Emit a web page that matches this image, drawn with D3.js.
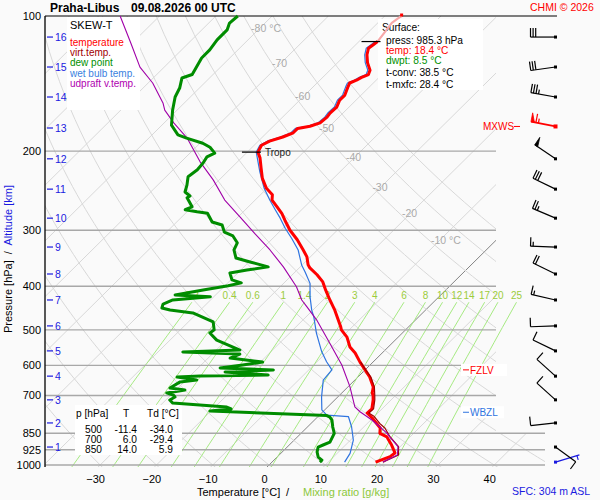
<!DOCTYPE html>
<html>
<head>
<meta charset="utf-8">
<script src="https://cdn.jsdelivr.net/npm/d3@7"></script>
<style>
  body { margin: 0; background: #fff; }
  svg { display: block; font-family: "Liberation Sans", Arial, sans-serif; }
</style>
</head>
<body>
<svg id="chart" width="600" height="500"></svg>
<script>
"use strict";

// ---- sounding data, [pressure hPa, temperature °C] ----
const tempProfile = [[985.3,18.4],[958,20.0],[940,20.2],[903,18.2],[866,15.9],[850,14.0],[827,13.1],[786,9.9],[766,8.1],[750,8.2],[716,6.8],[700,6.0],[691,5.4],[670,4.5],[637,2.1],[614,0.0],[590,-2.3],[563,-4.8],[546,-6.8],[519,-9.1],[500,-11.4],[493,-12.0],[452,-16.1],[429,-18.8],[408,-21.3],[391,-23.3],[377,-25.6],[364,-28.1],[358,-29.0],[344,-30.6],[332,-32.5],[315,-35.4],[300,-38.4],[285,-41.1],[275,-42.9],[266,-44.9],[257,-47.0],[250,-47.9],[242,-50.1],[230,-52.6],[218,-54.7],[207,-56.7],[201,-58.1],[194,-58.7],[190,-58.0],[186,-56.4],[182,-55.3],[178,-55.3],[176,-53.5],[173,-52.3],[168,-52.1],[164.5,-52.3],[159.5,-52.2],[154,-52.9],[150,-52.9],[144,-53.8],[141,-54.2],[139,-53.5],[137,-53.1],[135,-52.4],[132,-52.9],[127,-54.7],[122,-56.2],[118,-57.1],[116,-56.9],[114,-56.7]];
const tempTop = [[114,-56.7],[108.6,-57.1],[103.6,-57.5],[100.5,-57.1],[100,-57.0]];
const virtTemp = [[985.3,19.7],[950,21.2],[910,19.7],[865,16.4],[828,14.0],[808,12.2],[780,10.0],[766,8.4],[750,8.5],[716,7.1],[700,6.3],[670,4.7],[637,2.3],[614,0.1],[590,-2.2]];
const wetBulb = [[985.3,12.9],[942,12.3],[880,10.5],[822,7.8],[780,5.4],[774,1.3],[754,-0.5],[705,-2.9],[647,-5.6],[614,-5.9],[589,-8.3],[559,-11.0],[509,-15.2],[467,-18.7],[452,-20.2],[422,-22.9],[394,-25.3],[371,-28.3],[358.5,-30.1],[332,-33.4],[313,-36.6],[297,-39.6],[282,-42.3],[270,-44.7],[257,-47.4],[242,-50.5],[222,-54.3],[201,-58.4],[194,-59.0],[190,-58.4],[186,-56.8],[182,-55.7],[178,-55.7],[176,-53.9],[173,-52.7],[168,-52.5],[164.5,-52.7],[159.5,-52.6],[154,-53.3],[150,-53.3],[144,-54.2],[141,-54.6],[139,-53.9],[137,-53.5],[135,-52.8],[132,-53.3],[127,-55.1],[122,-56.6],[118,-57.5],[116,-57.3],[114,-57.1]];
const dewPoint = [[985.3,8.5],[975,8.5],[960,7.3],[935.5,6.2],[912,5.5],[902.5,6.0],[889,6.7],[850,5.9],[823,4.5],[794,3.1],[782,2.2],[776,1.4],[758,-20.2],[750,-16.8],[743,-17.9],[728,-28.2],[716.5,-29.3],[705.7,-28.9],[700,-29.4],[691,-31.1],[680.6,-28.4],[674,-31.4],[653,-30.7],[646.6,-28.1],[637,-32.1],[633.5,-28.2],[630.5,-16.3],[620.6,-24.5],[614,-16.3],[608,-26.1],[599,-22.6],[590,-19.6],[578,-26.1],[566,-25.1],[560,-35.6],[554.5,-25.8],[527,-31.7],[508,-34.2],[500,-34.0],[480,-35.6],[458.6,-40.8],[451.6,-45.4],[447,-47.2],[438,-47.7],[429,-46.7],[422,-40.6],[418,-47.2],[407.6,-43.1],[399,-39.4],[393,-37.6],[387,-39.8],[373.5,-41.4],[368,-38.9],[362,-35.7],[353,-39.8],[346,-43.0],[332,-44.8],[320,-45.5],[309,-47.5],[303,-49.7],[292,-51.4],[287.6,-53.7],[275,-56.1],[273,-58.2],[270,-60.7],[266,-60.0],[254,-62.5],[251.7,-62.3],[246.6,-63.9],[238,-64.8],[228,-66.1],[220,-65.7],[212.5,-65.9],[206,-66.3],[202,-65.6],[196,-67.5],[192,-69.5],[187,-73.3],[184,-75.4],[175,-78.3],[162,-80.8],[151.5,-82.7],[144.7,-83.5],[137.4,-84.9],[135,-83.7],[124,-85.0],[119,-85.0],[113,-85.5],[107.4,-85.5],[103.7,-86.3],[100,-86.1]];
const parcel = [[985.3,19.7],[950,21.0],[910,19.6],[866,16.4],[849,15.2],[822,12.8],[794,10.2],[761,6.6],[742,4.8],[669,0.3],[599,-5.0],[536,-11.0],[475,-17.6],[444,-21.7],[429,-23.8],[401,-27.1],[362,-33.0],[332,-38.4],[305,-44.1],[280,-49.7],[257,-55.4],[232,-61.0],[211,-66.7],[187,-73.2],[173,-78.3],[162,-82.2],[156.5,-83.7],[141,-89.2],[130,-94.3],[115,-100.2],[100,-107.0]];

// ---- axes / reference lines ----
const tempTicks = [-30, -20, -10, 0, 10, 20, 30, 40];
const pressTicks = [100, 200, 300, 400, 500, 600, 700, 850, 925, 1000];
const altKm = [1, 2, 3, 4, 5, 6, 7, 8, 9, 10, 11, 12, 13, 14, 15, 16];
const altP = [912, 806, 716, 634, 557, 490, 429, 375.5, 327, 282, 243, 208, 177.6, 151.5, 129.9, 111.4];
const isoLabelT = [-80, -70, -60, -50, -40, -30, -20, -10];
const isoLabelP = [106.3, 127.3, 150.6, 177.6, 206.1, 239.8, 274.7, 315.4];
const mixRatios = [0.2, 0.4, 0.6, 1, 1.4, 2, 3, 4, 6, 8, 10, 12, 14, 17, 20, 25];

// ---- winds ----
const windP   = [985.3, 912, 806, 716, 634, 557, 490, 429, 375.5, 327, 282, 243, 208, 176.2, 151.5, 129.9, 111.4];
const windDir = [73, 126, 264, 312, 312, 296, 268, 283, 296, 272, 293, 296, 304, 281, 280, 262, 270];
const windSpd = [3, 10, 10, 10, 10, 10, 10, 15, 20, 15, 25, 30, 50, 65, 35, 30, 30];
const windKind = ["sfc", "", "", "", "", "", "", "", "", "", "", "", "", "mxws", "", "", ""];

// ---- table / surface ----
const tableP = [500, 700, 850];
const tableT = [-11.4, 6.0, 14.0];
const tableTd = [-34.0, -29.4, 5.9];
const surfaceLines = [
    ["Surface:", "#000", 31, 382],
    ["press: 985.3 hPa", "#000", 44, 386],
    ["temp: 18.4 °C", "#ff0000", 54, 386],
    ["dwpt: 8.5 °C", "#009000", 64, 386],
    ["t-conv: 38.5 °C", "#000", 76, 386],
    ["t-mxfc: 28.4 °C", "#000", 88, 386]
];
const legendItems = [
    ["temperature", "#ff0000"],
    ["virt.temp.", "#a00000"],
    ["dew point", "#009000"],
    ["wet bulb temp.", "#3a7fe0"],
    ["udpraft v.temp.", "#b000b0"]
];
const levelMarks = [["FZLV", 614, "#ff0000"], ["WBZL", 763, "#2f74e0"]];
const mxwsP = 176.2;
const tropoMark = [201, -58.1];
const topMark = [114, -56.7];

const SKEW = 1.01, Y0 = 470, LEFT = 45, RIGHT = 496;
const svg = d3.select("#chart");
const y = d3.scaleLog().domain([100, 1000]).range([16, 465]);
const x = d3.scaleLinear().domain([-30, 40]).range([95.1, 489.2]);
const sx = (t, p) => x(t) + SKEW * (Y0 - y(p));
const line = d3.line().x(d => sx(d[1], d[0])).y(d => y(d[0]));

function dewFromMix(w, p) {
    const e = w * p / (622 + w);
    const l = Math.log(e / 6.112);
    return 243.5 * l / (17.67 - l);
}

svg.append("rect").attr("width", 600).attr("height", 500).attr("fill", "#fafafa");

const defs = svg.append("defs");
const gc = defs.append("clipPath").attr("id", "gridClip");
gc.append("rect").attr("x", LEFT).attr("y", 16).attr("width", RIGHT - LEFT).attr("height", 451);
gc.append("rect").attr("x", LEFT).attr("y", 433).attr("width", 500).attr("height", 34);
defs.append("clipPath").attr("id", "mixClip")
    .append("rect").attr("x", LEFT).attr("y", 16).attr("width", 500).attr("height", 451);

// isotherms + dry adiabats
const grid = svg.append("g").attr("clip-path", "url(#gridClip)");
grid.selectAll(".iso").data(d3.range(-160, 60, 10)).join("line")
    .attr("x1", t => sx(t, 1060)).attr("y1", y(1060))
    .attr("x2", t => sx(t, 100)).attr("y2", y(100))
    .attr("stroke", t => t === 0 ? "#666" : "#d8d8d8")
    .attr("stroke-width", t => t === 0 ? 0.8 : 1);
const pSamples = d3.range(100, 1071, 10);
grid.selectAll(".adiabat").data(d3.range(-100, 120, 10)).join("path")
    .attr("d", th => line(pSamples.map(p => [p, (th + 273.15) * Math.pow(p / 1000, 0.2857) - 273.15])))
    .attr("fill", "none").attr("stroke", "#d8d8d8").attr("stroke-width", 1);

// mixing ratio lines
const mixTop = 434;
const mixP = d3.range(mixTop, 1071, 20).concat([1070]);
svg.append("g").attr("clip-path", "url(#mixClip)")
    .selectAll("path").data(mixRatios).join("path")
    .attr("d", w => line(mixP.map(p => [p, dewFromMix(w, p)])))
    .attr("fill", "none").attr("stroke", "#a6ea82").attr("stroke-width", 1);
svg.append("g").selectAll("text").data(mixRatios).join("text")
    .attr("x", w => sx(dewFromMix(w, mixTop), mixTop)).attr("y", 299)
    .attr("text-anchor", "middle").attr("font-size", 10).attr("fill", "#9ccc3c")
    .text(w => w);

// pressure lines
svg.append("g").selectAll("line").data(pressTicks.slice(1)).join("line")
    .attr("x1", LEFT).attr("x2", p => p >= 850 ? 545 : RIGHT)
    .attr("y1", p => y(p)).attr("y2", p => y(p))
    .attr("stroke", "#a8a8a8").attr("stroke-width", 1.4);
svg.append("line").attr("x1", LEFT).attr("x2", 557).attr("y1", y(100)).attr("y2", y(100))
    .attr("stroke", "#000").attr("stroke-width", 1.2);
svg.append("line").attr("x1", LEFT).attr("x2", LEFT).attr("y1", y(100)).attr("y2", 467)
    .attr("stroke", "#000").attr("stroke-width", 1.3);

// isotherm labels
svg.append("g").selectAll("text").data(isoLabelT).join("text")
    .attr("x", (t, i) => sx(t, isoLabelP[i]) - 9).attr("y", (t, i) => y(isoLabelP[i]) + 4)
    .attr("font-size", 10.5).attr("fill", "#aaa")
    .text(t => (t === -80 || t === -10) ? `${t} °C` : `${t}`);

// axes
const xAxis = svg.append("g").attr("transform", `translate(0,${Y0})`)
    .call(d3.axisBottom(x).tickValues(tempTicks).tickSize(0).tickPadding(5));
xAxis.select(".domain").remove();
xAxis.selectAll("text").attr("font-size", 11).attr("font-family", "Liberation Sans, Arial, sans-serif");
const yAxis = svg.append("g").attr("transform", `translate(${LEFT},0)`)
    .call(d3.axisLeft(y).tickValues(pressTicks).tickFormat(d3.format("d")).tickSize(0).tickPadding(4));
yAxis.select(".domain").remove();
yAxis.selectAll("text").attr("font-size", 11).attr("font-family", "Liberation Sans, Arial, sans-serif");

// altitude ticks
const alt = svg.append("g").attr("fill", "#1a1ae0").attr("stroke", "#1a1ae0");
alt.selectAll("line").data(altP).join("line")
    .attr("x1", 47).attr("x2", 53).attr("y1", p => y(p)).attr("y2", p => y(p)).attr("stroke-width", 1.2);
alt.selectAll("text").data(altKm).join("text")
    .attr("x", 55).attr("y", (k, i) => y(altP[i]) + 4).attr("stroke", "none")
    .attr("font-size", 10.5).text(k => k);

// axis titles
const yt = svg.append("text").attr("transform", "translate(12,333) rotate(-90)")
    .attr("font-size", 11).style("white-space", "pre");
yt.append("tspan").attr("fill", "#000").text("Pressure [hPa]  /  ");
yt.append("tspan").attr("fill", "#1a1ae0").text("Altitude [km]");
svg.append("text").attr("x", 197).attr("y", 496).attr("font-size", 11).text("Temperature [°C]");
svg.append("text").attr("x", 286).attr("y", 496).attr("font-size", 11).text("/");
svg.append("text").attr("x", 303).attr("y", 496).attr("font-size", 11).attr("fill", "#8cc83a").text("Mixing ratio [g/kg]");

// title
svg.append("text").attr("x", 50).attr("y", 12).attr("font-size", 12).attr("font-weight", "bold").text("Praha-Libus");
svg.append("text").attr("x", 131).attr("y", 12).attr("font-size", 12).attr("font-weight", "bold").text("09.08.2026 00 UTC");
svg.append("text").attr("x", 530).attr("y", 10.5).attr("font-size", 10.5).attr("fill", "#ff0000").text("CHMI © 2026");
svg.append("text").attr("x", 512).attr("y", 495).attr("font-size", 10.5).attr("fill", "#1a1ae0").text("SFC: 304 m ASL");

// legend box
svg.append("rect").attr("x", 67).attr("y", 17).attr("width", 73).attr("height", 93).attr("fill", "#fff");
svg.append("text").attr("x", 70).attr("y", 29).attr("font-size", 11).text("SKEW-T");
svg.append("g").selectAll("text").data(legendItems).join("text")
    .attr("x", 70).attr("y", (d, i) => 46 + i * 10.2).attr("font-size", 10)
    .attr("fill", d => d[1]).text(d => d[0]);

// surface box
svg.append("rect").attr("x", 378).attr("y", 19).attr("width", 105).attr("height", 71).attr("fill", "#fff");
svg.append("g").selectAll("text").data(surfaceLines).join("text")
    .attr("x", d => d[3]).attr("y", d => d[2]).attr("font-size", 10.2)
    .attr("fill", d => d[1]).text(d => d[0]);

// table box
svg.append("rect").attr("x", 75).attr("y", 405).attr("width", 107).attr("height", 50).attr("fill", "#fff");
const tb = svg.append("g").attr("font-size", 10.2);
tb.append("text").attr("x", 76).attr("y", 417).text("p [hPa]");
tb.append("text").attr("x", 126).attr("y", 417).attr("text-anchor", "middle").text("T");
tb.append("text").attr("x", 147).attr("y", 417).text("Td [°C]");
tableP.forEach((p, i) => {
    const ry = 432.5 + i * 10.3;
    tb.append("text").attr("x", 102).attr("y", ry).attr("text-anchor", "end").text(p);
    tb.append("text").attr("x", 137).attr("y", ry).attr("text-anchor", "end").text(tableT[i].toFixed(1));
    tb.append("text").attr("x", 173).attr("y", ry).attr("text-anchor", "end").text(tableTd[i].toFixed(1));
});

// profiles
const prof = svg.append("g").attr("fill", "none").attr("stroke-linejoin", "round");
prof.append("path").attr("d", line(wetBulb)).attr("stroke", "#2f74e0").attr("stroke-width", 1.2);
prof.append("path").attr("d", line(tempTop)).attr("stroke", "#f7a8a8").attr("stroke-width", 2.2);
prof.append("path").attr("d", line(tempProfile)).attr("stroke", "#ff0000").attr("stroke-width", 3);
prof.append("path").attr("d", line(virtTemp)).attr("stroke", "#a00000").attr("stroke-width", 1.2);
prof.append("path").attr("d", line(parcel)).attr("stroke", "#a000a8").attr("stroke-width", 1.1);
prof.append("path").attr("d", line(dewPoint)).attr("stroke", "#008c00").attr("stroke-width", 3);
svg.append("rect").attr("x", sx(tempTop[4][1], 100) - 1.5).attr("y", y(100) - 2.5)
    .attr("width", 3).attr("height", 3).attr("fill", "#ff0000");

// tropopause / top markers
[tropoMark, topMark].forEach(m => {
    const mx = sx(m[1], m[0]);
    svg.append("line").attr("x1", mx - 16).attr("x2", mx + 3).attr("y1", y(m[0])).attr("y2", y(m[0]))
        .attr("stroke", "#000").attr("stroke-width", 1.2);
});
svg.append("text").attr("x", sx(tropoMark[1], tropoMark[0]) + 7).attr("y", y(tropoMark[0]) + 4)
    .attr("font-size", 10).attr("fill", "#222").text("Tropo");

// level marks
levelMarks.forEach(([name, p, col]) => {
    const ly = y(p);
    svg.append("rect").attr("x", 461).attr("y", ly - 6).attr("width", name === "WBZL" ? 43 : 46).attr("height", 12).attr("fill", "#fff");
    svg.append("line").attr("x1", 463).attr("x2", 469).attr("y1", ly).attr("y2", ly).attr("stroke", col);
    svg.append("text").attr("x", 470).attr("y", ly + 4).attr("font-size", 10).attr("fill", col).text(name);
});
svg.append("text").attr("x", 483).attr("y", y(mxwsP) + 4).attr("font-size", 10).attr("fill", "#ff0000").text("MXWS");
svg.append("line").attr("x1", 514).attr("x2", 520).attr("y1", y(mxwsP)).attr("y2", y(mxwsP)).attr("stroke", "#ff0000");

// wind barbs
function drawBarb(g, cx, cy, dir, spd, col, sw) {
    const r = dir * Math.PI / 180;
    const ux = Math.sin(r), uy = -Math.cos(r);
    const nx = -uy, ny = ux;
    const L = 25, B = 9, gap = 2.6;
    const ex = cx + L * ux, ey = cy + L * uy;
    g.append("line").attr("x1", cx).attr("y1", cy).attr("x2", ex).attr("y2", ey)
        .attr("stroke", col).attr("stroke-width", sw);
    let s = Math.round(spd / 5) * 5, pos = 0;
    while (s >= 50) {
        const ax = ex - pos * ux, ay = ey - pos * uy;
        const bx = ex - (pos + 3.5) * ux, by = ey - (pos + 3.5) * uy;
        g.append("path").attr("d", `M${ax},${ay}L${ax + B * nx},${ay + B * ny}L${bx},${by}Z`)
            .attr("fill", col).attr("stroke", col).attr("stroke-width", 0.8);
        pos += 5; s -= 50;
    }
    while (s >= 10) {
        const ax = ex - pos * ux, ay = ey - pos * uy;
        g.append("line").attr("x1", ax).attr("y1", ay).attr("x2", ax + B * nx).attr("y2", ay + B * ny)
            .attr("stroke", col).attr("stroke-width", 1.2);
        pos += gap; s -= 10;
    }
    if (s >= 5) {
        if (pos === 0) pos = gap;
        const ax = ex - pos * ux, ay = ey - pos * uy;
        g.append("line").attr("x1", ax).attr("y1", ay).attr("x2", ax + B * 0.5 * nx).attr("y2", ay + B * 0.5 * ny)
            .attr("stroke", col).attr("stroke-width", 1.2);
    }
    const ds = sw > 1.3 ? 4 : 3;
    g.append("rect").attr("x", cx - ds / 2).attr("y", cy - ds / 2).attr("width", ds).attr("height", ds).attr("fill", col);
}
const barbs = svg.append("g");
windP.forEach((p, i) => {
    const kind = windKind[i];
    const col = kind === "mxws" ? "#ff0000" : kind === "sfc" ? "#1a1ae0" : "#000";
    drawBarb(barbs, 555.5, y(p), windDir[i], windSpd[i], col, kind === "mxws" ? 1.8 : 1.2);
});
</script>
</body>
</html>
